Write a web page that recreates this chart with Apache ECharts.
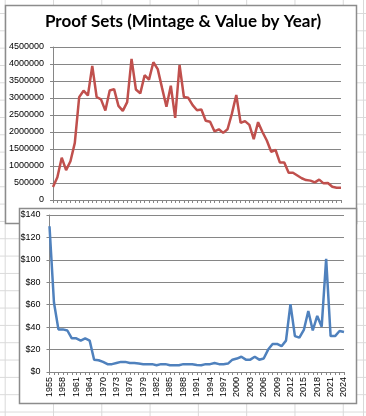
<!DOCTYPE html>
<html>
<head>
<meta charset="utf-8">
<script src="https://cdn.jsdelivr.net/npm/echarts@6/dist/echarts.min.js"></script>
<style>
html,body{margin:0;padding:0;width:366px;height:416px;overflow:hidden;background:#fff;}
#bg{position:absolute;left:0;top:0;width:366px;height:416px;
background-image:linear-gradient(to right,#d9d9d9 1px,transparent 1px),linear-gradient(to bottom,#d9d9d9 1px,transparent 1px);
background-size:48.3px 17.33px;background-position:4.7px 13px;}
#bg2{position:absolute;left:363px;top:0;width:1px;height:416px;background:#d9d9d9;}
#c{position:absolute;left:0;top:0;width:366px;height:416px;}
</style>
</head>
<body>
<div id="bg"></div><div id="bg2"></div>
<div id="c"></div>
<script>
const years = [1955,1956,1957,1958,1959,1960,1961,1962,1963,1964,
1968,1969,1970,1971,1972,1973,1974,1975,1976,1977,1978,1979,1980,1981,1982,1983,1984,1985,1986,1987,
1988,1989,1990,1991,1992,1993,1994,1995,1996,1997,1998,1999,2000,2001,2002,2003,2004,2005,2006,2007,
2008,2009,2010,2011,2012,2013,2014,2015,2016,2017,2018,2019,2020,2021,2022,2023,2024];

const mintage = [380000,670000,1245000,880000,1140000,1680000,3025000,3215000,3075000,3945000,
3030000,2960000,2630000,3220000,3260000,2770000,2620000,2880000,4150000,3250000,3135000,3670000,3540000,4050000,3850000,3290000,2740000,3360000,2415000,3970000,
3030000,3005000,2790000,2640000,2660000,2330000,2300000,2020000,2080000,1975000,2080000,2540000,3090000,2270000,2320000,2210000,1790000,2290000,2000000,1750000,
1420000,1470000,1100000,1100000,800000,800000,720000,640000,585000,570000,520000,600000,490000,500000,390000,360000,360000];

const value = [130,62,38,38,37,30,30,28,30,28,
11,10.5,9,7,7,8,9,9,8,8,7.5,7,7,7,6,7,7,6,6,6,
7,7,7,6.3,6,7,7,8,7,7,7.5,11,12,13.6,11,11,13.6,11,12,20,
25,25,23,28,60.5,32,30.6,37.5,54.4,37,50,40.4,101,32,32,36.6,35.7];

const mintTicks = {min:0, max:4500000, interval:500000};
const valueTicks = {min:0, max:140, interval:20};

const chart = echarts.init(document.getElementById('c'), null, {renderer:'canvas'});
const gridColor = '#868686';
const labelFont = {fontFamily:'Liberation Sans', fontSize:9, color:'#000'};

chart.setOption({
  backgroundColor:'transparent',
  animation:false,
  graphic:[
    {type:'rect', z:-10, shape:{x:5.5,y:5.5,width:351,height:218}, style:{fill:'#fff', stroke:'#8c8c8c', lineWidth:1.5}},
    {type:'rect', z:-5, shape:{x:19.5,y:208.5,width:337,height:195}, style:{fill:'#fff', stroke:'#8c8c8c', lineWidth:1.5}},
    {type:'text', z:10, left:'center', top:13, style:{text:'Proof Sets (Mintage & Value by Year)', font:'bold 17px Lato', fill:'#000'}}
  ],
  grid:[
    {left:53, top:47, right:25, bottom:216, containLabel:false},
    {left:49.5, top:215, right:22, bottom:44, containLabel:false}
  ],
  xAxis:[
    {type:'category', gridIndex:0, data:years, boundaryGap:false,
     axisLine:{lineStyle:{color:gridColor, width:1}},
     axisTick:{show:true, length:3, interval:0, lineStyle:{color:gridColor}},
     axisLabel:{show:false}, splitLine:{show:false}},
    {type:'category', gridIndex:1, data:years, boundaryGap:false,
     axisLine:{lineStyle:{color:gridColor, width:1}},
     axisTick:{show:true, length:3, interval:0, lineStyle:{color:gridColor}},
     axisLabel:Object.assign({show:true, interval:2, rotate:90, margin:5}, labelFont),
     splitLine:{show:false}}
  ],
  yAxis:[
    {type:'value', gridIndex:0, min:mintTicks.min, max:mintTicks.max, interval:mintTicks.interval,
     axisLine:{show:true, lineStyle:{color:gridColor}},
     axisTick:{show:true, length:3, lineStyle:{color:gridColor}},
     axisLabel:Object.assign({margin:9, formatter:v=>String(v)}, labelFont),
     splitLine:{show:true, lineStyle:{color:gridColor, width:1}}},
    {type:'value', gridIndex:1, min:valueTicks.min, max:valueTicks.max, interval:valueTicks.interval,
     axisLine:{show:true, lineStyle:{color:gridColor}},
     axisTick:{show:true, length:3, lineStyle:{color:gridColor}},
     axisLabel:Object.assign({margin:9, formatter:v=>'$'+v}, labelFont),
     splitLine:{show:true, lineStyle:{color:gridColor, width:1}}}
  ],
  series:[
    {type:'line', xAxisIndex:0, yAxisIndex:0, data:mintage, showSymbol:false, symbol:'none',
     lineStyle:{color:'#C0504D', width:2.5}},
    {type:'line', xAxisIndex:1, yAxisIndex:1, data:value, showSymbol:false, symbol:'none',
     lineStyle:{color:'#4F81BD', width:2.5}}
  ]
});
</script>
</body>
</html>
